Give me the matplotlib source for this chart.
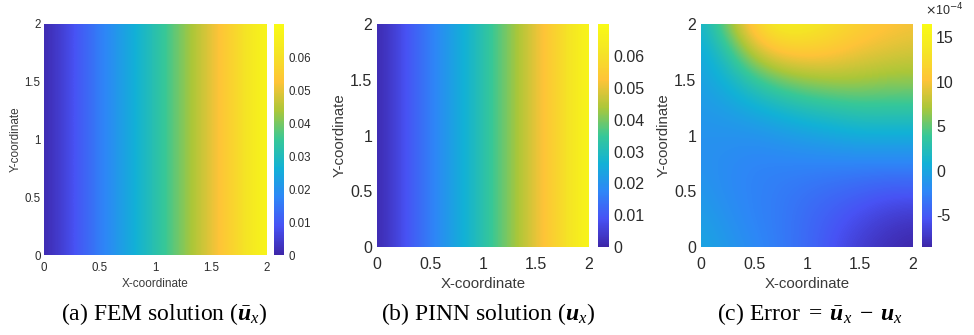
import numpy as np
import matplotlib.pyplot as plt
from matplotlib.colors import LinearSegmentedColormap

plt.rcParams["font.family"] = ["Liberation Sans", "DejaVu Sans"]
plt.rcParams["mathtext.fontset"] = "custom"
plt.rcParams["mathtext.rm"] = "Liberation Serif"
plt.rcParams["mathtext.it"] = "Liberation Serif:italic"
plt.rcParams["mathtext.bf"] = "Liberation Serif:bold:italic"

# sample positions along each coordinate
x_nodes = [0.0, 0.25, 0.5, 0.75, 1.0, 1.25, 1.5, 1.75, 2.0]
y_nodes = [0.0, 0.25, 0.5, 0.75, 1.0, 1.25, 1.5, 1.75, 2.0]

# u_x along x (field is constant in y)
u_fem = [0.0, 0.008, 0.016, 0.024, 0.032, 0.041, 0.050, 0.059, 0.069]
u_pinn = [0.0, 0.008, 0.016, 0.024, 0.032, 0.041, 0.050, 0.059, 0.069]

# error field (x 1e-4), rows: y = 0 ... 2, cols: x = 0 ... 2
err_e4 = [
    [0.0, -1.0, -2.0, -3.0, -4.0, -5.5, -7.0, -8.0, -8.6],
    [-0.5, -1.5, -2.5, -3.0, -4.0, -5.0, -6.0, -7.0, -7.5],
    [-1.0, -2.0, -2.5, -3.0, -3.5, -4.0, -4.5, -5.0, -5.0],
    [-1.5, -2.0, -2.5, -2.5, -2.5, -2.5, -2.5, -2.5, -2.5],
    [-1.5, -1.5, -1.5, -1.0, -0.5, 0.0, 0.5, 0.5, 0.5],
    [-1.0, -0.5, 0.5, 1.5, 2.5, 3.0, 3.5, 3.5, 3.5],
    [-0.5, 1.0, 3.5, 5.5, 6.5, 7.0, 7.0, 6.5, 6.5],
    [0.0, 3.0, 8.0, 10.5, 11.0, 10.5, 9.5, 9.0, 8.5],
    [1.0, 6.0, 12.0, 15.0, 14.5, 13.0, 11.5, 10.5, 10.0],
]

axis_ticks = [0, 0.5, 1, 1.5, 2]
axis_ticklabels = ["0", "0.5", "1", "1.5", "2"]
u_cticks = [0, 0.01, 0.02, 0.03, 0.04, 0.05, 0.06]
u_cticklabels = ["0", "0.01", "0.02", "0.03", "0.04", "0.05", "0.06"]
u_range = (0.0, 0.0702)
err_cticks = [-5, 0, 5, 10, 15]
err_cticklabels = ["-5", "0", "5", "10", "15"]
err_range = (-8.6, 16.5)

captions = [
    r"(a) FEM solution ($\bar{\mathbf{u}}_x$)",
    r"(b) PINN solution ($\mathbf{u}_x$)",
    r"(c) Error $=\;\bar{\mathbf{u}}_x\;-\;\mathbf{u}_x$",
]

parula = LinearSegmentedColormap.from_list("parula", [
    (0.0, (0.2422, 0.1504, 0.6603)),
    (0.125, (0.2810, 0.3228, 0.9579)),
    (0.25, (0.1786, 0.5289, 0.9682)),
    (0.375, (0.0689, 0.6948, 0.8394)),
    (0.5, (0.2161, 0.7843, 0.5923)),
    (0.625, (0.6720, 0.7793, 0.2227)),
    (0.75, (0.9970, 0.7659, 0.2199)),
    (0.875, (0.9598, 0.8949, 0.1473)),
    (1.0, (0.9769, 0.9839, 0.0805)),
])

W, H = 974, 335
fig = plt.figure(figsize=(W / 100, H / 100), dpi=100)


def box(l, t, r, b):
    return [l / W, 1 - b / H, (r - l) / W, (b - t) / H]


# panel geometry in pixels: axes box, colorbar box, font sizes, paddings
panels = [
    dict(ax=box(44, 24, 267, 255), cb=box(274, 24, 284, 255), fs=8.3, lfs=8.5,
         xpad=5, ypad=2.5, xlp=3, cap_x=164),
    dict(ax=box(377, 24, 589, 247), cb=box(598, 24, 609, 247), fs=11.5, lfs=10.8,
         xpad=7, ypad=3.5, xlp=3.5, cap_x=488),
    dict(ax=box(701, 24, 913, 247), cb=box(922, 24, 932, 247), fs=11.5, lfs=10.8,
         xpad=7, ypad=3.5, xlp=3.5, cap_x=810),
]

half = 0.125
ext = [x_nodes[0] - half, x_nodes[-1] + half, y_nodes[0] - half, y_nodes[-1] + half]
fields = [
    (np.array([u_fem]), u_range, u_cticks, u_cticklabels),
    (np.array([u_pinn]), u_range, u_cticks, u_cticklabels),
    (np.array(err_e4), err_range, err_cticks, err_cticklabels),
]

tick_color = "#2b2b2b"
for i, (p, (Z, rng, cticks, clabels)) in enumerate(zip(panels, fields)):
    ax = fig.add_axes(p["ax"])
    if Z.shape[0] == 1:
        extent = [ext[0], ext[1], 0, 2]
    else:
        extent = ext
    im = ax.imshow(Z, origin="lower", extent=extent, aspect="auto", cmap=parula,
                   vmin=rng[0], vmax=rng[1], interpolation="bicubic",
                   interpolation_stage="data")
    ax.set_xlim(0, 2)
    ax.set_ylim(0, 2)
    for s in ax.spines.values():
        s.set_visible(False)
    ax.set_xticks(axis_ticks, axis_ticklabels)
    ax.set_yticks(axis_ticks, axis_ticklabels)
    ax.tick_params(length=0, labelsize=p["fs"], colors=tick_color)
    ax.tick_params(axis="x", pad=p["xpad"])
    ax.tick_params(axis="y", pad=p["ypad"])
    ax.set_xlabel("X-coordinate", fontsize=p["lfs"], color="#3a3a3a", labelpad=p["xlp"])
    ax.set_ylabel("Y-coordinate", fontsize=p["lfs"], color="#3a3a3a", labelpad=2)

    cax = fig.add_axes(p["cb"])
    cb = fig.colorbar(im, cax=cax)
    cb.outline.set_visible(False)
    cb.set_ticks(cticks, labels=clabels)
    cax.tick_params(length=0, labelsize=p["fs"], colors=tick_color, pad=3)

    fig.text(p["cap_x"] / W, 1 - 314 / H, captions[i], family="Liberation Serif",
             fontsize=17, ha="center", va="center", color="black")

fig.text(944 / W, 1 - 10 / H, r"$\times$10$^{-4}$", fontsize=9, color=tick_color,
         ha="center", va="center", math_fontfamily="dejavusans")

fig.savefig("out.png", dpi=100)
